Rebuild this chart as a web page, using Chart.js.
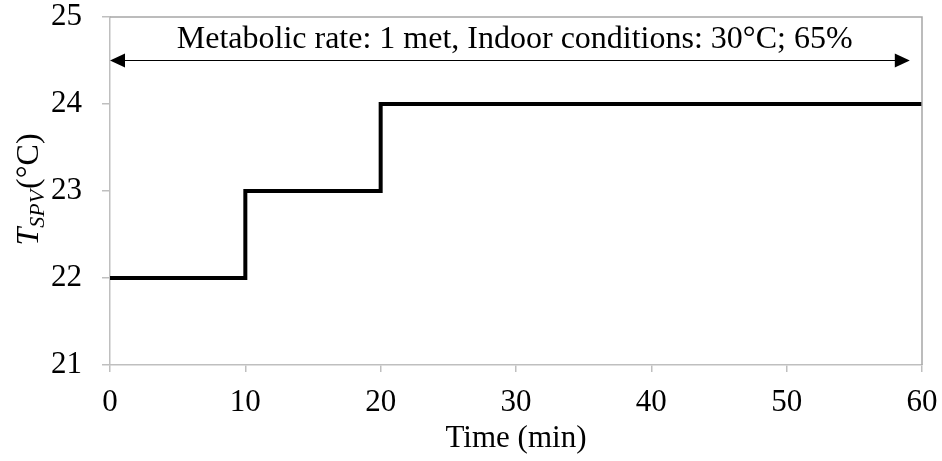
<!DOCTYPE html>
<html>
<head>
<meta charset="utf-8">
<script src="https://cdn.jsdelivr.net/npm/chart.js@4.4.1/dist/chart.umd.min.js"></script>
<style>
  html, body { margin: 0; padding: 0; background: #fff; }
  #wrap { width: 942px; height: 461px; }
</style>
</head>
<body>
<div id="wrap"><canvas id="chart" width="942" height="461"></canvas></div>
<script>
// set-point schedule (step changes)
const tiempos = [0, 10, 20, 60];
const tspv = [22, 23, 24, 24];

const ticksX = [0, 10, 20, 30, 40, 50, 60];
const ticksY = [21, 22, 23, 24, 25];

// double arrow with the condition note
const flechaX = [0, 59.1];
const flechaY = 24.5;
const notaX = 29.9;
const notaY = 24.74;
const nota = 'Metabolic rate: 1 met, Indoor conditions: 30°C; 65%';

const fuente = '"Liberation Serif", "Times New Roman", serif';

const marcoPlugin = {
  id: 'marco',
  afterDraw(chart) {
    const { ctx, chartArea: a, scales } = chart;
    ctx.save();
    // plot area frame (top and right)
    ctx.strokeStyle = '#a6a6a6';
    ctx.lineWidth = 1.5;
    ctx.beginPath();
    ctx.moveTo(a.left, a.top);
    ctx.lineTo(a.right, a.top);
    ctx.lineTo(a.right, a.bottom);
    ctx.stroke();

    // arrow
    const x0 = scales.x.getPixelForValue(flechaX[0]);
    const x1 = scales.x.getPixelForValue(flechaX[1]);
    const y = scales.y.getPixelForValue(flechaY);
    ctx.strokeStyle = '#000';
    ctx.fillStyle = '#000';
    ctx.lineWidth = 1.2;
    ctx.beginPath();
    ctx.moveTo(x0 + 10, y);
    ctx.lineTo(x1 - 10, y);
    ctx.stroke();
    const cabeza = (xt, dir) => {
      ctx.beginPath();
      ctx.moveTo(xt, y);
      ctx.lineTo(xt + dir * 15, y - 7);
      ctx.lineTo(xt + dir * 15, y + 7);
      ctx.closePath();
      ctx.fill();
    };
    cabeza(x0, 1);
    cabeza(x1, -1);

    // note text
    ctx.font = '32px ' + fuente;
    ctx.textAlign = 'center';
    ctx.textBaseline = 'middle';
    ctx.fillText(nota, scales.x.getPixelForValue(notaX), scales.y.getPixelForValue(notaY));

    // y axis title: T_SPV (°C)
    ctx.translate(38, 190);
    ctx.rotate(-Math.PI / 2);
    ctx.textAlign = 'left';
    ctx.textBaseline = 'alphabetic';
    const fT = 'italic 32px ' + fuente;
    const fS = 'italic 22px ' + fuente;
    const fN = '32px ' + fuente;
    ctx.font = fT; const wT = ctx.measureText('T').width;
    ctx.font = fS; const wS = ctx.measureText('SPV').width;
    ctx.font = fN; const wN = ctx.measureText('(°C)').width;
    let px = -(wT + wS + wN) / 2;
    ctx.font = fT; ctx.fillText('T', px, 0); px += wT;
    ctx.font = fS; ctx.fillText('SPV', px, 6); px += wS + 1;
    ctx.font = fN; ctx.fillText('(°C)', px, 0);
    ctx.restore();
  }
};

new Chart(document.getElementById('chart').getContext('2d'), {
  type: 'line',
  data: {
    datasets: [{
      data: tiempos.map((t, i) => ({ x: t, y: tspv[i] })),
      stepped: 'before',
      borderColor: '#000',
      borderWidth: 4,
      pointRadius: 0,
      fill: false
    }]
  },
  options: {
    responsive: false,
    animation: false,
    layout: { padding: { left: 0, top: 17, right: 20, bottom: 0 } },
    plugins: { legend: { display: false }, tooltip: { enabled: false } },
    scales: {
      x: {
        type: 'linear',
        min: 0, max: 60,
        afterBuildTicks: s => { s.ticks = ticksX.map(v => ({ value: v })); },
        afterFit: s => { s.height = 96; s.paddingLeft = 0; s.paddingRight = 0; },
        grid: { drawOnChartArea: false, color: '#bfbfbf', tickLength: 7, lineWidth: 1.5 },
        border: { color: '#bfbfbf', width: 1.5 },
        ticks: { color: '#000', font: { family: fuente, size: 31 }, padding: 12, maxRotation: 0 },
        title: { display: true, text: 'Time (min)', color: '#000', font: { family: fuente, size: 31 }, padding: { top: 0, bottom: 4 } }
      },
      y: {
        min: 21, max: 25,
        afterBuildTicks: s => { s.ticks = ticksY.map(v => ({ value: v })); },
        afterFit: s => { s.width = 110; s.paddingTop = 0; s.paddingBottom = 0; },
        grid: { drawOnChartArea: false, color: '#bfbfbf', tickLength: 8, lineWidth: 1.5 },
        border: { color: '#bfbfbf', width: 1.5 },
        ticks: { color: '#000', font: { family: fuente, size: 31 }, padding: 20 }
      }
    }
  },
  plugins: [marcoPlugin]
});
</script>
</body>
</html>
